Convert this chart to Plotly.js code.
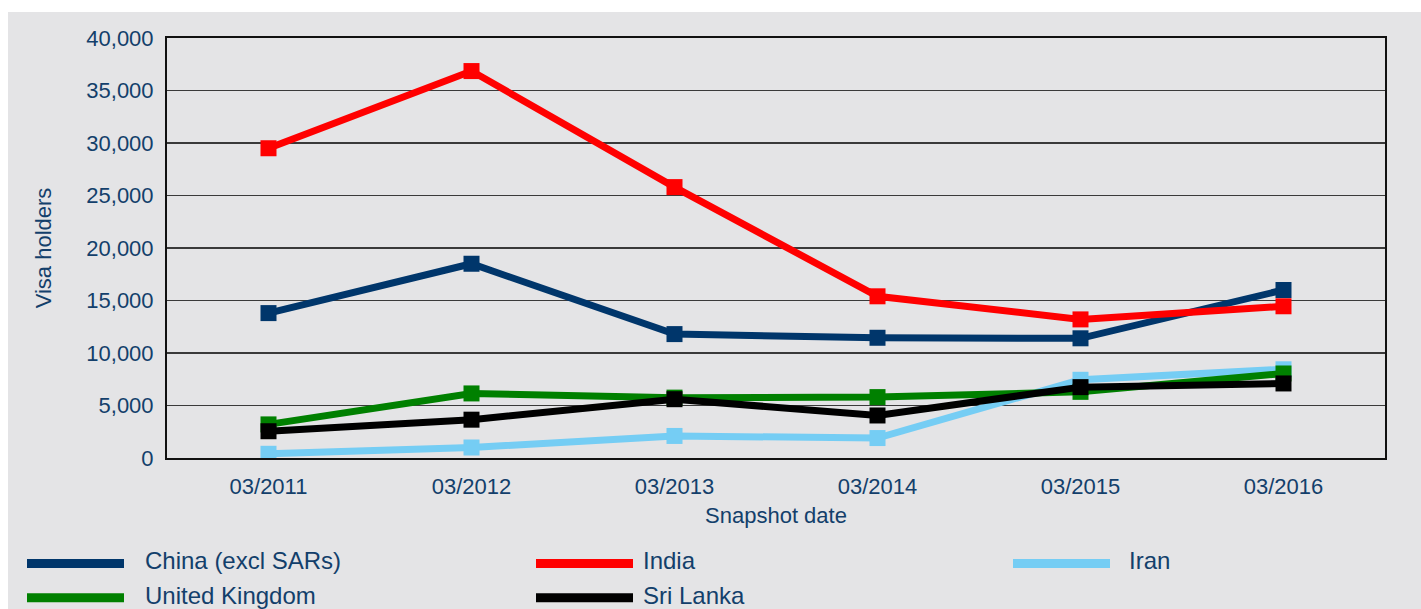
<!DOCTYPE html>
<html><head><meta charset="utf-8">
<script src="https://cdn.plot.ly/plotly-3.0.1.min.js"></script>
<style>html,body{margin:0;padding:0;background:#fff;overflow:hidden}
#chart{position:absolute;left:8px;top:12px;width:1413px;height:597px}</style>
</head><body><div id="chart"></div>
<script>
// ---- data ----
const dates = ['03/2011','03/2012','03/2013','03/2014','03/2015','03/2016'];
const china    = [13800, 18500, 11800, 11450, 11400, 16000];
const india    = [29500, 36850, 25800, 15400, 13200, 14450];
const iran     = [400, 1000, 2100, 1900, 7450, 8450];
const uk       = [3200, 6150, 5750, 5800, 6300, 8050];
const sriLanka = [2550, 3650, 5600, 4050, 6750, 7100];
const seriesNames  = ['China (excl SARs)','India','Iran','United Kingdom','Sri Lanka'];
const seriesValues = [china, india, iran, uk, sriLanka];
const seriesColors = ['#00366b','#ff0000','#75cdf4','#008000','#000000'];

// ---- layout geometry ----
const W = 1413, H = 597, L = 159, R = 36, T = 26, B = 151;
const PW = W - L - R, PH = H - T - B;
const OX = 8, OY = 12; // div offset in page
const navy = '#133f6b';
const fontFam = 'Arial, "Liberation Sans", sans-serif';
const px2x = p => (p - OX - L) / PW;
const px2y = p => (H - B - (p - OY)) / PH;

const traces = seriesNames.map((n, i) => ({
  type: 'scatter', mode: 'lines+markers', name: n,
  x: dates, y: seriesValues[i],
  line: {color: seriesColors[i], width: 7},
  marker: {symbol: 'square', size: 16, color: seriesColors[i]},
  showlegend: false
}));

// custom legend (3 columns x 2 rows)
const colLineX = [27, 536, 1013], lineLen = 97, colTextX = [143, 641, 1127];
const rowY = [563.5, 597.7];
const rowTextY = [560, 595];
const shapes = [], annotations = [];
seriesNames.forEach((n, i) => {
  const c = i % 3, r = Math.floor(i / 3);
  shapes.push({type: 'rect', xref: 'paper', yref: 'paper',
    x0: px2x(colLineX[c]), x1: px2x(colLineX[c] + lineLen),
    y0: px2y(rowY[r] - 4.5), y1: px2y(rowY[r] + 4.5),
    fillcolor: seriesColors[i], line: {width: 0}});
  annotations.push({xref: 'paper', yref: 'paper', x: px2x(colTextX[c]), y: px2y(rowTextY[r]),
    xanchor: 'left', yanchor: 'middle', showarrow: false, text: n,
    font: {family: fontFam, size: 24, color: navy}});
});

const layout = {
  width: W, height: H,
  margin: {l: L, r: R, t: T, b: B, pad: 0},
  paper_bgcolor: '#e4e4e6', plot_bgcolor: '#e4e4e6',
  font: {family: fontFam, size: 22, color: navy},
  showlegend: false,
  xaxis: {type: 'category', range: [-0.5, 5.5], showgrid: false, zeroline: false,
    showline: true, mirror: true, linecolor: '#111', linewidth: 2,
    ticks: '', ticklabelstandoff: 8, tickfont: {size: 22, color: navy},
    title: {text: 'Snapshot date', font: {size: 22, color: navy}, standoff: 9},
    automargin: false, fixedrange: true},
  yaxis: {range: [0, 40000], dtick: 5000, tickformat: ',d', showgrid: true,
    gridcolor: '#3a3a3a', gridwidth: 1.5, zeroline: false,
    showline: true, mirror: true, linecolor: '#111', linewidth: 2,
    ticks: '', ticklabelstandoff: 7, tickfont: {size: 22, color: navy},
    title: {text: 'Visa holders', font: {size: 22, color: navy}, standoff: 29},
    automargin: false, fixedrange: true},
  shapes: shapes, annotations: annotations
};
Plotly.newPlot('chart', traces, layout, {displayModeBar: false, staticPlot: true});
</script></body></html>
